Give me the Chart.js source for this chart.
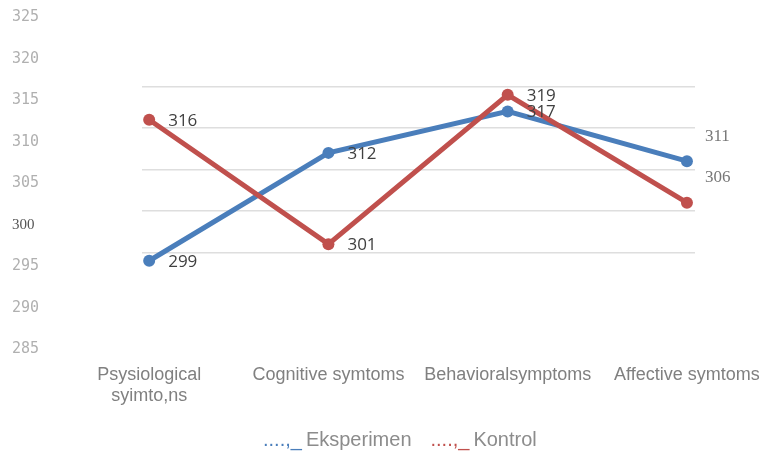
<!DOCTYPE html>
<html>
<head>
<meta charset="utf-8">
<script src="https://cdn.jsdelivr.net/npm/chart.js@4.4.1/dist/chart.umd.min.js"></script>
<style>
  html, body { margin: 0; padding: 0; background: #fff; }
  #wrap { width: 769px; height: 451px; }
</style>
</head>
<body>
<div id="wrap"><canvas id="myChart"></canvas></div>
<script>
// kategori gejala (sumbu x)
const categories = [
    ['Psysiological', 'syimto,ns'],
    'Cognitive symtoms',
    'Behavioralsymptoms',
    'Affective symtoms'
]
// nilai tiap kelompok
const eksperimen = [299, 312, 317, 311]
const kontrol = [316, 301, 319, 306]
// label sumbu y
const yTicks = [285, 290, 295, 300, 305, 310, 315, 320, 325]

const blue = '#4a7ebb'
const red = '#c0504d'

// angka di samping tiap titik
const valueLabels = {
    id: 'valueLabels',
    afterDatasetsDraw(chart) {
        const ctx = chart.ctx
        ctx.save()
        ctx.textAlign = 'left'
        ctx.textBaseline = 'middle'
        chart.data.datasets.forEach((ds, i) => {
            const meta = chart.getDatasetMeta(i)
            meta.data.forEach((pt, j) => {
                const v = ds.data[j].y
                if (j === meta.data.length - 1) {
                    // titik terakhir: label agak ke atas
                    ctx.font = '17px "Liberation Serif"'
                    ctx.fillStyle = '#777'
                    ctx.fillText(v, pt.x + 18, pt.y - 25)
                } else {
                    ctx.font = '17px "Open Sans"'
                    ctx.fillStyle = '#404040'
                    ctx.fillText(v, pt.x + 19, pt.y + 1)
                }
            })
        })
        ctx.restore()
    }
}

// legenda bawah
const bottomLegend = {
    id: 'bottomLegend',
    afterDraw(chart) {
        const ctx = chart.ctx
        const y = 440
        const gap = 19
        ctx.save()
        ctx.textBaseline = 'middle'
        ctx.textAlign = 'left'
        ctx.font = '20px "Liberation Sans"'
        const items = chart.data.datasets.map(ds => ({
            prefix: '....,_',
            text: ds.label,
            color: ds.borderColor
        }))
        let x = 263
        items.forEach(it => {
            ctx.fillStyle = it.color
            ctx.fillText(it.prefix, x, y)
            x += ctx.measureText(it.prefix).width + 4
            ctx.fillStyle = '#8c8c8c'
            ctx.fillText(it.text, x, y)
            x += ctx.measureText(it.text).width + gap
        })
        ctx.restore()
    }
}

function toPoints(arr) {
    return arr.map((v, i) => ({ x: i, y: v }))
}

function isSerifTick(c) {
    return c.tick && c.tick.value === 300
}

const ctx = document.getElementById('myChart')
const myChart = new Chart(ctx, {
    type: 'line',
    data: {
        datasets: [
            {
                label: 'Eksperimen',
                data: toPoints(eksperimen),
                borderColor: blue,
                backgroundColor: blue,
                borderWidth: 5,
                pointRadius: 6,
                pointBorderWidth: 0,
                order: 1
            },
            {
                label: 'Kontrol',
                data: toPoints(kontrol),
                borderColor: red,
                backgroundColor: red,
                borderWidth: 5,
                pointRadius: 6,
                pointBorderWidth: 0,
                order: 0
            }
        ]
    },
    options: {
        responsive: true,
        maintainAspectRatio: false,
        animation: false,
        layout: { padding: { left: 12, right: 74, top: 45, bottom: 0 } },
        plugins: {
            legend: { display: false },
            tooltip: { enabled: false }
        },
        scales: {
            x: {
                type: 'linear',
                min: -0.04,
                max: 3.045,
                afterBuildTicks: s => { s.ticks = categories.map((c, i) => ({ value: i })) },
                afterFit: s => { s.height = 89 },
                grid: { display: false, drawTicks: false },
                border: { display: false },
                ticks: {
                    padding: 2,
                    maxRotation: 0,
                    autoSkip: false,
                    color: '#808080',
                    font: { family: '"Liberation Sans"', size: 18 },
                    callback: v => categories[v]
                }
            },
            y: {
                min: 286.8,
                max: 325,
                afterBuildTicks: s => { s.ticks = yTicks.map(v => ({ value: v })) },
                afterFit: s => { s.width = 130 },
                grid: {
                    drawTicks: false,
                    lineWidth: 1.5,
                    color: c => (c.tick && c.tick.value >= 300 && c.tick.value <= 320) ? '#dedede' : 'rgba(0,0,0,0)'
                },
                border: { display: false },
                ticks: {
                    crossAlign: 'far',
                    labelOffset: -27.5,
                    color: c => isSerifTick(c) ? '#555' : '#b0b0b0',
                    font: c => isSerifTick(c)
                        ? { family: '"Liberation Serif"', size: 15 }
                        : { family: '"DejaVu Sans Mono"', size: 15 }
                }
            }
        }
    },
    plugins: [valueLabels, bottomLegend]
})
</script>
</body>
</html>
